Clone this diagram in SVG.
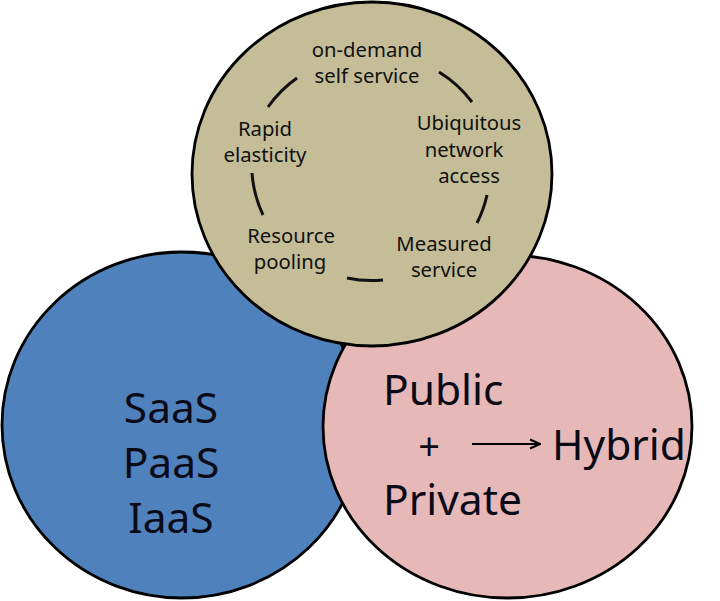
<svg xmlns="http://www.w3.org/2000/svg" width="720" height="601" viewBox="0 0 720 601">
<style>
.c{stroke:#000;stroke-width:2.8}
.s{font-family:"Noto Sans","Open Sans","DejaVu Sans",sans-serif;font-size:20.3px;fill:#111;text-anchor:middle}
.b{font-family:"Noto Sans","Open Sans","DejaVu Sans",sans-serif;font-size:42.5px;fill:#0b0b18}
.a{fill:none;stroke:#111;stroke-width:3}
</style>
<defs>
<marker id="arr" viewBox="0 0 12 12" refX="11" refY="6" markerWidth="12" markerHeight="12" markerUnits="userSpaceOnUse" orient="auto">
<path d="M1,1.5 L11,6 L1,10.5" fill="none" stroke="#000" stroke-width="2"/>
</marker>
</defs>
<rect width="720" height="601" fill="#fff"/>
<g id="service-models">
<ellipse class="c" cx="182" cy="425" rx="180" ry="173" fill="#4F81BD"/>
<text class="b" x="171" y="423" text-anchor="middle">SaaS</text>
<text class="b" x="171" y="478" text-anchor="middle">PaaS</text>
<text class="b" x="171" y="533" text-anchor="middle">IaaS</text>
</g>
<g id="deployment-models">
<ellipse class="c" cx="507.5" cy="426.5" rx="184.5" ry="171.5" fill="#E6B9B8"/>
<text class="b" x="383" y="405">Public</text>
<text class="b" x="429" y="460" text-anchor="middle" style="font-size:38px">+</text>
<text class="b" x="383" y="515">Private</text>
<text class="b" x="552" y="460">Hybrid</text>
</g>
<g id="characteristics">
<ellipse class="c" cx="372" cy="174" rx="180" ry="172" fill="#C4BD97"/>
<text class="s" x="367" y="57">on-demand</text>
<text class="s" x="367" y="83">self service</text>
<text class="s" x="469" y="130">Ubiquitous</text>
<text class="s" x="464" y="157">network</text>
<text class="s" x="469" y="183">access</text>
<text class="s" x="265" y="136">Rapid</text>
<text class="s" x="265" y="162">elasticity</text>
<text class="s" x="291" y="243">Resource</text>
<text class="s" x="290" y="269">pooling</text>
<text class="s" x="444" y="251">Measured</text>
<text class="s" x="444" y="277">service</text>
</g>
<g id="connectors">
<path class="a" d="M268,107 A120,120 0 0,1 297,78"/>
<path class="a" d="M439,72 A120,120 0 0,1 472,102"/>
<path class="a" d="M487,195 A120,120 0 0,1 477,223"/>
<path class="a" d="M383,280 A120,120 0 0,1 347,278"/>
<path class="a" d="M263,215 A120,120 0 0,1 252,173"/>
<line x1="472" y1="444" x2="540" y2="444" stroke="#000" stroke-width="2" marker-end="url(#arr)"/>
</g>
</svg>
